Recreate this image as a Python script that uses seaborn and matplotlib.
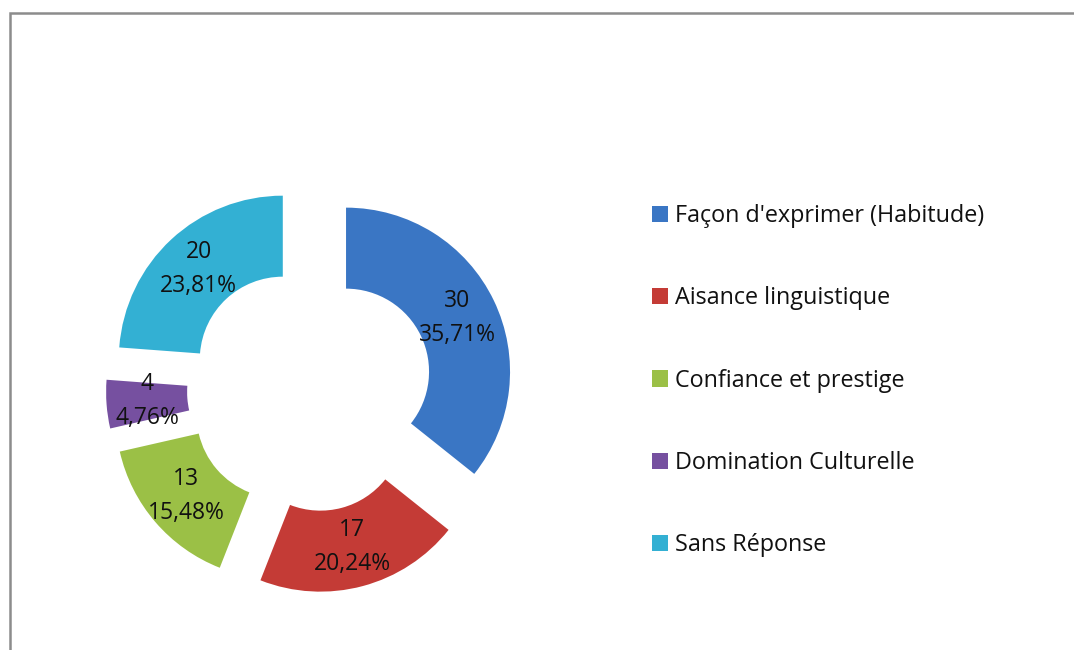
import matplotlib
matplotlib.use("Agg")
import matplotlib.pyplot as plt
import seaborn as sns
from matplotlib.patches import Rectangle

categories = ["Façon d'exprimer (Habitude)", "Aisance linguistique",
              "Confiance et prestige", "Domination Culturelle", "Sans Réponse"]
values = [30, 17, 13, 4, 20]
colors = ["#3A76C4", "#C43B36", "#9BC046", "#7650A0", "#33B0D3"]

sns.set_theme(style="white")
plt.rcParams['font.family'] = ['Open Sans', 'DejaVu Sans']

W, H = 1074, 650
fig = plt.figure(figsize=(W / 100, H / 100), dpi=100)
ax = fig.add_axes([0, 0, 1, 1])

total = sum(values)
R = 164
ring = 81
cx, cy = 310, H - 389
explode = [40] * len(values)


def fmt(p):
    v = int(round(p * total / 100))
    return f"{v}\n{p:.2f}%".replace(".", ",")


wedges, _, autotexts = ax.pie(values, colors=colors, startangle=90, counterclock=False,
                              radius=R, center=(cx, cy), explode=explode,
                              wedgeprops=dict(width=ring, linewidth=0),
                              autopct=fmt, pctdistance=(R - ring / 2) / R,
                              textprops=dict(fontsize=16.5, color="#111111",
                                             linespacing=1.55))
ax.set_xlim(0, W)
ax.set_ylim(0, H)
ax.set_aspect("equal")
ax.axis("off")

leg = ax.legend(wedges, categories, loc="upper left", bbox_to_anchor=(652 / W, 1 - 204 / H),
                frameon=False, fontsize=16.8, labelspacing=2.5, handlelength=0.68,
                handleheight=0.68, handletextpad=0.3, borderpad=0, borderaxespad=0)
for t in leg.get_texts():
    t.set_color("#111111")

fig.patches.append(Rectangle((10 / W, -0.1), 1.2, 1.1 - 13 / H, transform=fig.transFigure,
                             fill=False, edgecolor="#8C8C8C", linewidth=1.8))

fig.savefig("out.png", dpi=100, facecolor="white")
